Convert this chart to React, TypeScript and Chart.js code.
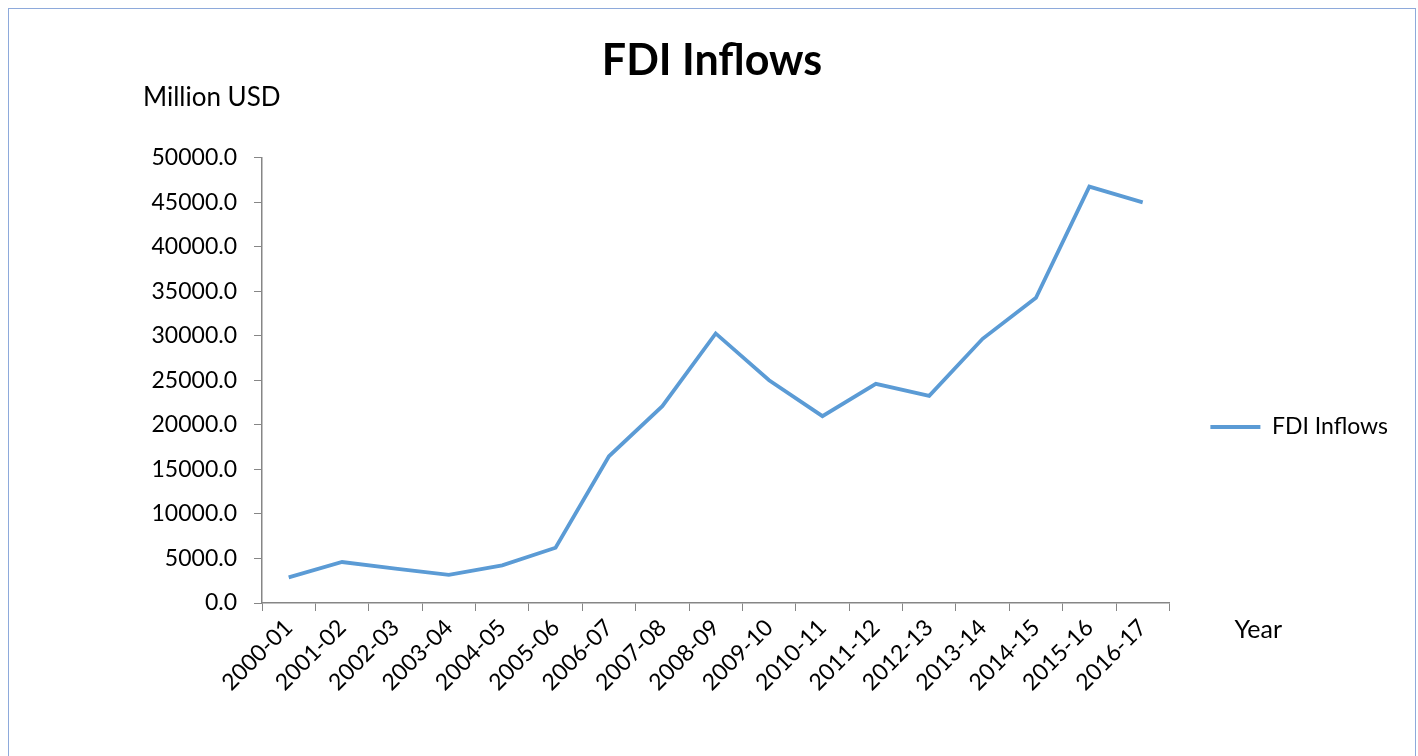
import React, { useEffect, useRef } from "react";
import { Chart, registerables } from "chart.js";

Chart.register(...registerables);

const categories = [
  "2000-01", "2001-02", "2002-03", "2003-04", "2004-05", "2005-06",
  "2006-07", "2007-08", "2008-09", "2009-10", "2010-11", "2011-12",
  "2012-13", "2013-14", "2014-15", "2015-16", "2016-17",
];
const fdiInflows = [
  2880, 4600, 3850, 3150, 4230, 6210, 16470, 22090, 30260, 25010, 20970,
  24610, 23260, 29660, 34270, 46740, 44980,
];
const seriesName = "FDI Inflows";
const chartTitle = "FDI Inflows";
const yAxisTitle = "Million USD";
const xAxisTitle = "Year";
const yMin = 0;
const yMax = 50000;
const yStep = 5000;

const FONT = "Lato, 'Open Sans', sans-serif";

const axisTextPlugin = {
  id: "axisText",
  afterDraw(chart: any) {
    const { ctx, chartArea } = chart;
    ctx.save();
    ctx.fillStyle = "#000";
    ctx.font = `26px ${FONT}`;
    ctx.textBaseline = "middle";
    ctx.textAlign = "left";
    ctx.fillText(yAxisTitle, chartArea.left - 119, chartArea.top - 60);
    ctx.font = `25px ${FONT}`;
    ctx.fillText(xAxisTitle, chartArea.right + 65, chartArea.bottom + 27);
    ctx.restore();
  },
};

export default function App() {
  const ref = useRef<HTMLCanvasElement | null>(null);
  useEffect(() => {
    if (!ref.current) return;
    const chart = new Chart(ref.current, {
      type: "line",
      data: {
        labels: categories,
        datasets: [
          {
            label: seriesName,
            data: fdiInflows,
            borderColor: "#5b9bd5",
            backgroundColor: "#5b9bd5",
            borderWidth: 3.8,
            pointRadius: 0,
            tension: 0,
            fill: false,
          },
        ],
      },
      options: {
        animation: false,
        responsive: false,
        maintainAspectRatio: false,
        layout: { padding: { left: 17, right: 17, top: 0, bottom: 0 } },
        plugins: {
          title: {
            display: true,
            text: chartTitle,
            color: "#000",
            font: { family: FONT, size: 43, weight: "bold" },
            padding: { top: 26, bottom: 71 },
          },
          legend: {
            display: true,
            position: "right",
            title: {
              display: true,
              text: "",
              font: { size: 10 },
              padding: { top: 66, bottom: 0 },
            },
            labels: {
              usePointStyle: true,
              pointStyle: "line",
              pointStyleWidth: 50,
              boxHeight: 23,
              padding: 41,
              color: "#000",
              font: { family: FONT, size: 23 },
            },
          },
          tooltip: { enabled: false },
        },
        scales: {
          x: {
            type: "category",
            offset: true,
            grid: {
              display: true,
              offset: true,
              drawOnChartArea: false,
              drawTicks: true,
              tickLength: 8,
              color: "#868686",
            },
            border: { display: true, color: "#868686", width: 1.5 },
            ticks: {
              autoSkip: false,
              minRotation: 45,
              maxRotation: 45,
              padding: 3,
              color: "#000",
              font: { family: FONT, size: 23 },
            },
            afterFit(scale: any) {
              scale.height = 164;
            },
          },
          y: {
            min: yMin,
            max: yMax,
            grid: {
              display: true,
              drawOnChartArea: false,
              drawTicks: true,
              tickLength: 8,
              color: "#868686",
            },
            border: { display: true, color: "#868686", width: 1.5 },
            ticks: {
              stepSize: yStep,
              padding: 17,
              color: "#000",
              font: { family: FONT, size: 23 },
              callback: (v: any) => Number(v).toFixed(1),
            },
            afterFit(scale: any) {
              scale.width = 236;
            },
          },
        },
      },
      plugins: [axisTextPlugin],
    });
    return () => chart.destroy();
  }, []);

  return (
    <div
      style={{
        position: "fixed",
        left: 8,
        top: 8,
        width: 1408,
        height: 760,
        border: "1px solid #8eaadb",
        boxSizing: "border-box",
        background: "#fff",
      }}
    >
      <canvas ref={ref} width={1406} height={758} style={{ display: "block" }} />
    </div>
  );
}
